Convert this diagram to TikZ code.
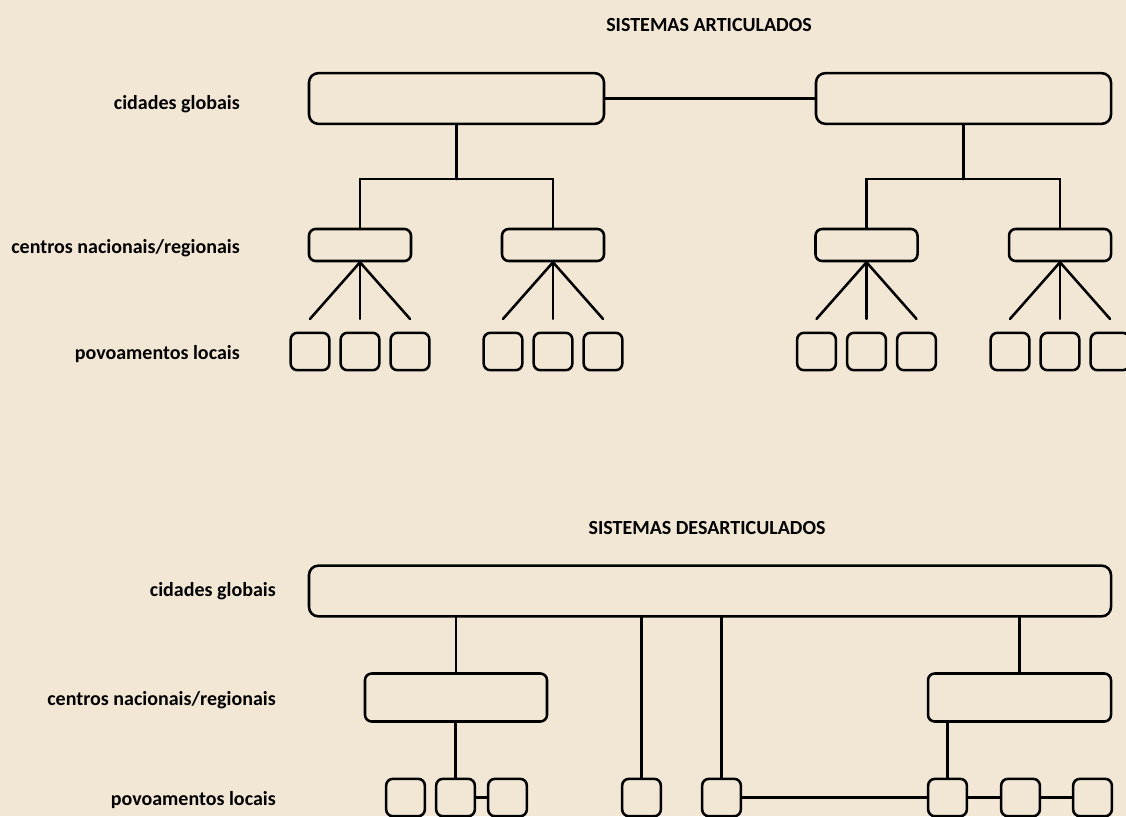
\documentclass[tikz,border=0pt]{standalone}
\usepackage{fontspec}
\setmainfont{Carlito}
\usepackage{tikz}
\usetikzlibrary{positioning}
\definecolor{papel}{HTML}{F2E7D5}

\begin{document}
\begin{tikzpicture}
		[x=0.75pt,y=-0.75pt,line cap=round,
		%Styles
		box line/.style={line width=1.9pt},
		big box/.style={draw,box line,rounded corners=7pt,fill=papel,minimum width=#1*0.75pt,minimum height=38pt,inner sep=0pt},
		mid box/.style={draw,box line,rounded corners=5pt,fill=papel,minimum width=#1*0.75pt,minimum height=24pt,inner sep=0pt},
		low box/.style={draw,box line,rounded corners=5pt,fill=papel,minimum width=29pt,minimum height=28pt,inner sep=0pt},
		level text/.style={anchor=east,inner sep=0pt,font=\bfseries\fontsize{15}{18}\selectfont},
		title text/.style={inner sep=0pt,font=\bfseries\fontsize{15}{18}\selectfont}
		]
		
		%The page
		\fill[papel] (0,0) rectangle (1126,816);
		\useasboundingbox (0,0) rectangle (1126,816);
		
		%Sistemas articulados
		\node[title text] (T1) at (709, 25) {SISTEMAS ARTICULADOS};
		
		\node[level text] (A1) at (240, 104) {cidades globais};
		\node[level text] (A2) at (240, 248) {centros nacionais/regionais};
		\node[level text] (A3) at (240, 354) {povoamentos locais};
		
		\node[big box=295] (G1) at (456.5, 98.5) {};
		\node[big box=295] (G2) at (963.5, 98.5) {};
		
		\node[mid box=102] (N1) at (360, 245) {};
		\node[mid box=102] (N2) at (553, 245) {};
		\node[mid box=102] (N3) at (866.5, 245) {};
		\node[mid box=102] (N4) at (1060, 245) {};
		
		\draw[box line] (G1.east) -- (G2.west);
		
		\coordinate (J1) at (456.5, 179);
		\coordinate (J2) at (963.5, 179);
		\draw[box line] (G1.south) -- (J1);
		\draw[box line] (N1.north) |- (J1) -| (N2.north);
		\draw[box line] (G2.south) -- (J2);
		\draw[box line] (N3.north) |- (J2) -| (N4.north);
		
		\foreach \n/\c in {1/360, 2/553, 3/866.5, 4/1060}
		{
			\node[low box] (L\n a) at (\c-50, 351.5) {};
			\node[low box] (L\n b) at (\c, 351.5) {};
			\node[low box] (L\n c) at (\c+50, 351.5) {};
			\draw[box line] (N\n.south) -- ([yshift=9.5pt]L\n a.north);
			\draw[box line] (N\n.south) -- ([yshift=9.5pt]L\n b.north);
			\draw[box line] (N\n.south) -- ([yshift=9.5pt]L\n c.north);
		}
		
		%Sistemas desarticulados
		\node[title text] (T2) at (707, 528) {SISTEMAS DESARTICULADOS};
		
		\node[level text] (B1) at (276, 591) {cidades globais};
		\node[level text] (B2) at (276, 700) {centros nacionais/regionais};
		\node[level text] (B3) at (276, 800) {povoamentos locais};
		
		\node[big box=802] (DG) at (710, 591) {};
		\node[mid box=182,minimum height=36pt] (DN1) at (456, 697.5) {};
		\node[mid box=183,minimum height=36pt] (DN2) at (1019.5, 697.5) {};
		
		\node[low box] (DL1) at (405.5, 797.5) {};
		\node[low box] (DL2) at (455.5, 797.5) {};
		\node[low box] (DL3) at (507.5, 797.5) {};
		\node[low box] (DL4) at (641.5, 797.5) {};
		\node[low box] (DL5) at (721.5, 797.5) {};
		\node[low box] (DL6) at (947.5, 797.5) {};
		\node[low box] (DL7) at (1020.5, 797.5) {};
		\node[low box] (DL8) at (1092.5, 797.5) {};
		
		\draw[box line] (DN1.north) -- (DN1.north |- DG.south);
		\draw[box line] (DN2.north) -- (DN2.north |- DG.south);
		\draw[box line] (DL4.north) -- (DL4.north |- DG.south);
		\draw[box line] (DL5.north) -- (DL5.north |- DG.south);
		\draw[box line] (DL2.north) -- (DL2.north |- DN1.south);
		\draw[box line] (DL6.north) -- (DL6.north |- DN2.south);
		
		\path[box line]
			(DL2)	edge	(DL3)
			(DL5)	edge	(DL6)
			(DL6)	edge	(DL7)
			(DL7)	edge	(DL8);
	\end{tikzpicture}
\end{document}
